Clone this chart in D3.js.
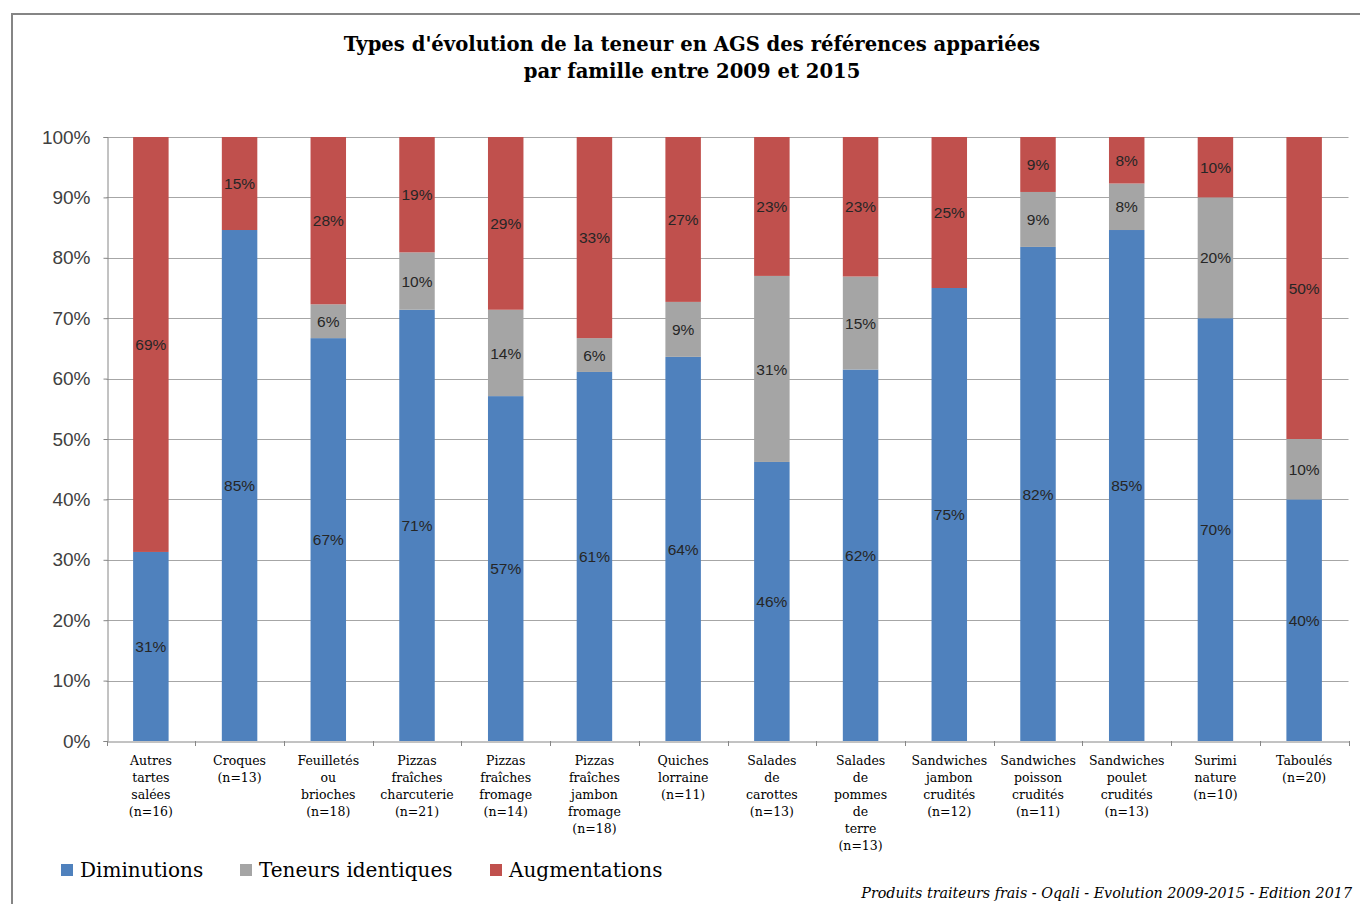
<!DOCTYPE html>
<html>
<head>
<meta charset="utf-8">
<script src="https://cdn.jsdelivr.net/npm/d3@7"></script>
<style>
  body { margin: 0; background: #fff; }
  svg { display: block; }
</style>
</head>
<body>
<svg width="1360" height="904"></svg>
<script>
// categories (one word per line in the axis labels)
let categories = [
    "Autres tartes salées (n=16)",
    "Croques (n=13)",
    "Feuilletés ou brioches (n=18)",
    "Pizzas fraîches charcuterie (n=21)",
    "Pizzas fraîches fromage (n=14)",
    "Pizzas fraîches jambon fromage (n=18)",
    "Quiches lorraine (n=11)",
    "Salades de carottes (n=13)",
    "Salades de pommes de terre (n=13)",
    "Sandwiches jambon crudités (n=12)",
    "Sandwiches poisson crudités (n=11)",
    "Sandwiches poulet crudités (n=13)",
    "Surimi nature (n=10)",
    "Taboulés (n=20)"
];

let diminutions   = [31.3, 84.6, 66.7, 71.4, 57.1, 61.1, 63.6, 46.2, 61.5, 75.0, 81.8, 84.6, 70.0, 40.0];
let identiques    = [0, 0, 5.6, 9.5, 14.3, 5.6, 9.1, 30.8, 15.4, 0, 9.1, 7.7, 20.0, 10.0];
let augmentations = [68.7, 15.4, 27.7, 19.1, 28.6, 33.3, 27.3, 23.0, 23.1, 25.0, 9.1, 7.7, 10.0, 50.0];

let seriesNames = ["Diminutions", "Teneurs identiques", "Augmentations"];
let yTicks = [0, 10, 20, 30, 40, 50, 60, 70, 80, 90, 100];

let titleLines = [
    "Types d'évolution de la teneur en AGS des références appariées",
    "par famille entre 2009 et 2015"
];
let sourceText = "Produits traiteurs frais - Oqali - Evolution 2009-2015 - Edition 2017";

function drawChart() {
    let svg = d3.select("svg");
    let colors = ["#4F81BD", "#A5A5A5", "#C0504D"];
    let serif = "'DejaVu Serif', serif";
    let sans = "'Liberation Sans', Arial, sans-serif";

    let margin = {left: 106.5, right: 1348.5, top: 137, bottom: 741};

    // outer frame
    svg.append("path")
        .attr("d", "M12,904 L12,14 L1362,14")
        .attr("fill", "none")
        .attr("stroke", "#858585")
        .attr("stroke-width", 2);

    // title
    svg.append("text")
        .attr("x", 692)
        .attr("y", 51)
        .attr("text-anchor", "middle")
        .style("font-family", serif)
        .style("font-weight", "bold")
        .style("font-size", "19.6px")
        .style("fill", "#000")
        .selectAll("tspan")
        .data(titleLines)
        .enter()
        .append("tspan")
        .attr("x", 692)
        .attr("dy", (d, i) => i === 0 ? 0 : 27)
        .text(d => d);

    let table = categories.map(function (c, i) {
        return {
            cat: c,
            "Diminutions": diminutions[i],
            "Teneurs identiques": identiques[i],
            "Augmentations": augmentations[i]
        };
    });

    let x = d3.scaleBand()
        .domain(categories)
        .range([margin.left, margin.right])
        .paddingInner(0.6)
        .paddingOuter(0.3);

    let y = d3.scaleLinear()
        .domain([0, 100])
        .range([margin.bottom, margin.top]);

    // gridlines
    svg.append("g")
        .selectAll("line")
        .data(yTicks.slice(1))
        .enter()
        .append("line")
        .attr("x1", margin.left)
        .attr("x2", margin.right)
        .attr("y1", d => Math.round(y(d)) + 0.5)
        .attr("y2", d => Math.round(y(d)) + 0.5)
        .attr("stroke", "#A6A6A6")
        .attr("stroke-width", 1.2);

    // y axis
    let yAxis = svg.append("g")
        .attr("transform", "translate(" + (Math.round(margin.left) + 0.5) + ",0)")
        .call(d3.axisLeft(y)
            .tickValues(yTicks)
            .tickSize(4)
            .tickPadding(13)
            .tickFormat(d => d + "%"));
    yAxis.select(".domain").attr("stroke", "#868686");
    yAxis.selectAll(".tick line").attr("stroke", "#868686");
    yAxis.selectAll(".tick text")
        .style("font-family", sans)
        .style("font-size", "19px")
        .style("fill", "#404040");

    let stack = d3.stack().keys(seriesNames);
    let layers = stack(table);

    let groups = svg.append("g")
        .selectAll("g")
        .data(layers)
        .enter()
        .append("g")
        .attr("fill", (d, i) => colors[i]);

    groups.selectAll("rect")
        .data(d => d)
        .enter()
        .append("rect")
        .attr("x", d => x(d.data.cat))
        .attr("width", x.bandwidth())
        .attr("y", d => y(d[1]))
        .attr("height", d => y(d[0]) - y(d[1]));

    // data labels
    groups.selectAll("text")
        .data(d => d.filter(p => p[1] - p[0] > 0))
        .enter()
        .append("text")
        .attr("x", d => x(d.data.cat) + x.bandwidth() / 2)
        .attr("y", d => y((d[0] + d[1]) / 2))
        .attr("dy", "0.36em")
        .attr("text-anchor", "middle")
        .style("font-family", sans)
        .style("font-size", "15.5px")
        .style("fill", "#262626")
        .text(d => Math.round(d[1] - d[0]) + "%");

    // x axis
    let xAxis = svg.append("g")
        .attr("transform", "translate(0," + (margin.bottom + 0.5) + ")")
        .call(d3.axisBottom(x).tickSize(0).tickFormat(""));
    xAxis.select(".domain").attr("stroke", "#868686");

    let step = x.step();
    svg.append("g")
        .selectAll("line")
        .data(d3.range(categories.length + 1))
        .enter()
        .append("line")
        .attr("x1", i => Math.round(margin.left + i * step) + 0.5)
        .attr("x2", i => Math.round(margin.left + i * step) + 0.5)
        .attr("y1", margin.bottom)
        .attr("y2", margin.bottom + 5)
        .attr("stroke", "#868686");

    let catLabels = svg.append("g")
        .selectAll("text")
        .data(categories)
        .enter()
        .append("text")
        .attr("text-anchor", "middle")
        .attr("y", 765)
        .style("font-family", serif)
        .style("font-size", "12.5px")
        .style("fill", "#000");

    catLabels.selectAll("tspan")
        .data(d => d.split(" ").map(w => ({w: w, c: d})))
        .enter()
        .append("tspan")
        .attr("x", d => x(d.c) + x.bandwidth() / 2)
        .attr("dy", (d, i) => i === 0 ? 0 : 17)
        .text(d => d.w);

    // legend
    let legendX = [61, 240, 490];
    let legend = svg.append("g")
        .selectAll("g")
        .data(seriesNames)
        .enter()
        .append("g")
        .attr("transform", (d, i) => "translate(" + legendX[i] + ",864)");
    legend.append("rect")
        .attr("width", 12)
        .attr("height", 12)
        .attr("fill", (d, i) => colors[i]);
    legend.append("text")
        .attr("x", 19)
        .attr("y", 13)
        .style("font-family", serif)
        .style("font-size", "20px")
        .style("fill", "#000")
        .text(d => d);

    // source
    svg.append("text")
        .attr("x", 1352)
        .attr("y", 898)
        .attr("text-anchor", "end")
        .style("font-family", serif)
        .style("font-style", "italic")
        .style("font-size", "14.3px")
        .style("fill", "#000")
        .text(sourceText);
}

drawChart();
</script>
</body>
</html>
